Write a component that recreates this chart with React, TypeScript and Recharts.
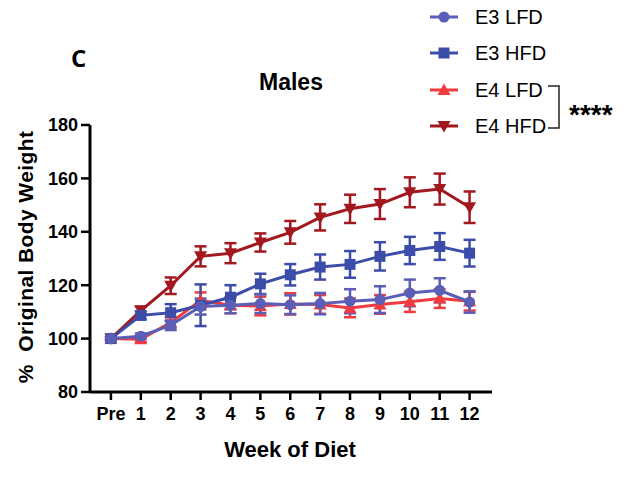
import React from 'react'
import { LineChart, Line, XAxis, YAxis, ErrorBar } from 'recharts'

// weeks on diet, 0 = pre-diet baseline
const weeks = [0, 1, 2, 3, 4, 5, 6, 7, 8, 9, 10, 11, 12]
const weekLabels = ['Pre', '1', '2', '3', '4', '5', '6', '7', '8', '9', '10', '11', '12']
const yTicks = [80, 100, 120, 140, 160, 180]

// % of original body weight, mean and SEM per week
const e3Lfd = [100, 100.9, 105, 112, 112.5, 113.1, 112.7, 113.1, 114, 114.6, 117.1, 118.1, 113.7]
const e3LfdErr = [0.5, 1, 1.8, 3, 3, 3.5, 3.5, 4, 4.5, 5, 5, 4.5, 4]
const e3Hfd = [100, 108.7, 109.7, 112.5, 115.5, 120.5, 123.9, 126.8, 127.8, 130.8, 133, 134.5, 132]
const e3HfdErr = [0.5, 1.5, 3.2, 7.8, 4.5, 3.8, 4, 4.7, 5, 5.3, 5.1, 5, 5]
const e4Lfd = [100, 99.8, 106, 114.3, 112.5, 112.2, 113, 112.8, 111.5, 112.8, 113.8, 115, 114]
const e4LfdErr = [0.5, 1, 2, 3, 3, 3.5, 4, 3.5, 3.5, 3.5, 3.8, 3.5, 3.5]
const e4Hfd = [100, 110.5, 119.8, 130.8, 132, 136, 139.8, 145.4, 148.6, 150.4, 154.8, 156, 149.2]
const e4HfdErr = [0.5, 1.5, 3.1, 3.75, 3.75, 3.4, 4.25, 4.9, 5.3, 5.6, 5.6, 5.8, 5.9]

const data = weeks.map((w, i) => ({
  week: w,
  e3Lfd: e3Lfd[i], e3LfdErr: e3LfdErr[i],
  e3Hfd: e3Hfd[i], e3HfdErr: e3HfdErr[i],
  e4Lfd: e4Lfd[i], e4LfdErr: e4LfdErr[i],
  e4Hfd: e4Hfd[i], e4HfdErr: e4HfdErr[i],
}))

type Shape = 'circle' | 'square' | 'up' | 'down'

// drawn back to front: E3 lines sit on top of E4 ones
const SERIES: { key: string; name: string; color: string; shape: Shape }[] = [
  { key: 'e4Hfd', name: 'E4 HFD', color: '#a3181f', shape: 'down' },
  { key: 'e4Lfd', name: 'E4 LFD', color: '#ef3b3f', shape: 'up' },
  { key: 'e3Hfd', name: 'E3 HFD', color: '#3b4da8', shape: 'square' },
  { key: 'e3Lfd', name: 'E3 LFD', color: '#5b5eb6', shape: 'circle' },
]
const LEGEND_ORDER = ['e3Lfd', 'e3Hfd', 'e4Lfd', 'e4Hfd']

const FONT = '"Liberation Sans", Arial, sans-serif'

function marker(shape: Shape, cx: number, cy: number, color: string, key?: React.Key) {
  if (shape === 'circle') return <circle key={key} cx={cx} cy={cy} r={5.5} fill={color} />
  if (shape === 'square') return <rect key={key} x={cx - 5.5} y={cy - 5.5} width={11} height={11} fill={color} />
  if (shape === 'up') {
    return <polygon key={key} points={`${cx},${cy - 6.5} ${cx - 6.5},${cy + 5} ${cx + 6.5},${cy + 5}`} fill={color} />
  }
  return <polygon key={key} points={`${cx - 6.5},${cy - 5} ${cx + 6.5},${cy - 5} ${cx},${cy + 6.5}`} fill={color} />
}

function Overlay() {
  const rowY = [17, 53, 90, 126]
  return (
    <svg width={637} height={477} style={{ position: 'absolute', left: 0, top: 0, pointerEvents: 'none' }}>
      <text x={71} y={67} fontFamily='"Open Sans", sans-serif' fontWeight={700} fontSize={24}>C</text>
      <text x={291} y={90} textAnchor="middle" fontFamily={FONT} fontWeight={700} fontSize={23}>Males</text>
      <text
        transform="translate(33, 257) rotate(-90)"
        textAnchor="middle" fontFamily={FONT} fontWeight={700} fontSize={21} letterSpacing={0.4}
      >
        {'%\u00a0\u00a0Original Body Weight'}
      </text>
      <text x={290} y={457} textAnchor="middle" fontFamily={FONT} fontWeight={700} fontSize={22}>Week of Diet</text>

      {LEGEND_ORDER.map((k, i) => {
        const s = SERIES.find((d) => d.key === k)!
        const y = rowY[i]
        return (
          <g key={k}>
            <line x1={430} x2={458} y1={y} y2={y} stroke={s.color} strokeWidth={3} />
            {marker(s.shape, 444, y, s.color)}
            <text x={475} y={y + 7} fontFamily={FONT} fontSize={20}>{s.name}</text>
          </g>
        )
      })}
      <polyline points="548,86 559,86 559,128 548,128" fill="none" stroke="#222" strokeWidth={1.5} />
      <text x={569} y={124} fontFamily={FONT} fontWeight={700} fontSize={28}>****</text>
    </svg>
  )
}

export default function App() {
  return (
    <div style={{ position: 'absolute', left: 0, top: 0, width: 637, height: 477, background: '#fff' }}>
      <LineChart width={637} height={477} data={data} margin={{ top: 125, right: 145, bottom: 55, left: 30 }}>
        <XAxis
          dataKey="week"
          type="number"
          domain={[-0.7, 12.75]}
          ticks={weeks}
          tickFormatter={(v: number) => weekLabels[v]}
          interval={0}
          tickSize={8}
          tickMargin={7}
          height={30}
          axisLine={{ stroke: '#000', strokeWidth: 3 }}
          tickLine={{ stroke: '#000', strokeWidth: 2.5 }}
          tick={{ fill: '#000', fontSize: 18, fontWeight: 700, fontFamily: FONT }}
        />
        <YAxis
          domain={[80, 180]}
          ticks={yTicks}
          interval={0}
          width={60}
          tickSize={9}
          tickMargin={3}
          axisLine={{ stroke: '#000', strokeWidth: 3 }}
          tickLine={{ stroke: '#000', strokeWidth: 2.5 }}
          tick={{ fill: '#000', fontSize: 18, fontWeight: 700, fontFamily: FONT }}
        />
        {SERIES.map((s) => (
          <Line
            key={s.key}
            dataKey={s.key}
            stroke={s.color}
            strokeWidth={3}
            isAnimationActive={false}
            dot={(p: any) => marker(s.shape, p.cx, p.cy, s.color, p.index)}
            activeDot={false}
          >
            <ErrorBar dataKey={`${s.key}Err`} direction="y" width={6} stroke={s.color} strokeWidth={2.5} />
          </Line>
        ))}
      </LineChart>
      <Overlay />
    </div>
  )
}
